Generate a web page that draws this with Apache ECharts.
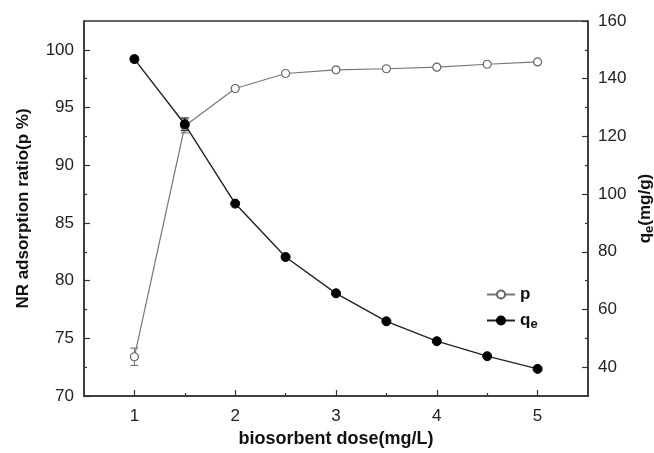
<!DOCTYPE html>
<html><head><meta charset="utf-8">
<script src="https://cdn.jsdelivr.net/npm/echarts@6/dist/echarts.min.js"></script>
<style>html,body{margin:0;padding:0;background:#fff;overflow:hidden}#c{width:654px;height:453px}</style>
</head><body><div id="c"></div>
<script>
const doses = [1, 1.5, 2, 2.5, 3, 3.5, 4, 4.5, 5];
const pValues = [73.4, 93.4, 96.65, 97.95, 98.27, 98.36, 98.5, 98.75, 98.95];
const qValues = [146.8, 124.2, 96.7, 78.2, 65.6, 55.9, 49.0, 43.8, 39.4];
const pErrors = [0.75, 0.6, 0, 0, 0, 0, 0, 0, 0];
const qErrors = [1.0, 2.2, 0, 0, 0, 0, 0, 0, 0];
const xTicks = [1, 2, 3, 4, 5];
const xMinorTicks = [1.5, 2.5, 3.5, 4.5];
const leftTicks = [70, 75, 80, 85, 90, 95, 100];
const leftMinorTicks = [72.5, 77.5, 82.5, 87.5, 92.5, 97.5];
const rightTicks = [40, 60, 80, 100, 120, 140, 160];
const rightMinorTicks = [50, 70, 90, 110, 130, 150];

const FONT = '"Liberation Sans", Arial, sans-serif';
const AX = '#333';
const chart = echarts.init(document.getElementById('c'), null, {width: 654, height: 453});

function errData(vals, errs) {
  return doses.map((d, i) => [d, vals[i] - errs[i], vals[i] + errs[i]]).filter((r, i) => errs[i] > 0);
}
function errSeries(yIdx, vals, errs, color) {
  return {
    type: 'custom', yAxisIndex: yIdx, xAxisIndex: 0, silent: true, z: 1,
    data: errData(vals, errs),
    renderItem: function (params, api) {
      const x = api.value(0);
      const lo = api.coord([x, api.value(1)]);
      const hi = api.coord([x, api.value(2)]);
      const w = 4;
      return {
        type: 'group',
        children: [
          {type: 'line', shape: {x1: lo[0], y1: lo[1], x2: hi[0], y2: hi[1]}, style: {stroke: color, lineWidth: 1}},
          {type: 'line', shape: {x1: lo[0] - w, y1: lo[1], x2: lo[0] + w, y2: lo[1]}, style: {stroke: color, lineWidth: 1}},
          {type: 'line', shape: {x1: hi[0] - w, y1: hi[1], x2: hi[0] + w, y2: hi[1]}, style: {stroke: color, lineWidth: 1}}
        ]
      };
    }
  };
}

const tickLabel = {color: '#222', fontSize: 17, fontFamily: FONT};
function nameStyle(size) {
  return {color: '#111', fontSize: size, fontWeight: 'bold', fontFamily: FONT,
    rich: {s: {fontSize: size - 4, fontWeight: 'bold', fontFamily: FONT, color: '#111', verticalAlign: 'bottom', padding: [8, 0, 0, 0]},
           n: {fontSize: size, fontWeight: 'bold', fontFamily: FONT, color: '#111'}}};
}

const option = {
  animation: false,
  backgroundColor: '#fff',
  grid: {left: 84, right: 66, top: 21, bottom: 57, containLabel: false, outerBoundsMode: 'none',
         show: true, borderColor: AX, borderWidth: 1.5, backgroundColor: 'transparent'},
  legend: {
    orient: 'vertical', left: 481, top: 281, itemGap: 9, itemWidth: 28, itemHeight: 10,
    data: ['p', 'qe'],
    formatter: function (n) { return n === 'qe' ? '{n|q}{s|e}' : '{n|p}'; },
    textStyle: nameStyle(17)
  },
  xAxis: [
    {type: 'value', min: 0.5, max: 5.5, position: 'bottom',
     name: 'biosorbent dose(mg/L)', nameLocation: 'middle', nameGap: 34, nameTextStyle: nameStyle(18),
     axisLine: {show: true, lineStyle: {color: AX, width: 1.5}},
     axisTick: {show: true, inside: true, length: 6, customValues: xTicks, lineStyle: {color: AX, width: 1.2}},
     axisLabel: {customValues: xTicks, margin: 12, ...tickLabel},
     splitLine: {show: false}},
    {type: 'value', min: 0.5, max: 5.5, position: 'bottom',
     axisLine: {show: false},
     axisTick: {show: true, inside: true, length: 3, customValues: xMinorTicks, lineStyle: {color: AX, width: 1.2}},
     axisLabel: {show: false}, splitLine: {show: false}}
  ],
  yAxis: [
    {type: 'value', min: 70, max: 102.5, position: 'left',
     name: 'NR adsorption ratio(p %)', nameLocation: 'middle', nameGap: 52, nameTextStyle: nameStyle(17),
     axisLine: {show: true, lineStyle: {color: AX, width: 1.5}},
     axisTick: {show: true, inside: true, length: 6, customValues: leftTicks, lineStyle: {color: AX, width: 1.2}},
     axisLabel: {customValues: leftTicks, margin: 10, ...tickLabel},
     splitLine: {show: false}},
    {type: 'value', min: 30, max: 160, position: 'right',
     name: '{n|q}{s|e}{n|(mg/g)}', nameLocation: 'middle', nameGap: 30, nameTextStyle: nameStyle(17),
     axisLine: {show: true, lineStyle: {color: AX, width: 1.5}},
     axisTick: {show: true, inside: true, length: 6, customValues: rightTicks, lineStyle: {color: AX, width: 1.2}},
     axisLabel: {customValues: rightTicks, margin: 10, ...tickLabel},
     splitLine: {show: false}},
    {type: 'value', min: 70, max: 102.5, position: 'left',
     axisLine: {show: false},
     axisTick: {show: true, inside: true, length: 3, customValues: leftMinorTicks, lineStyle: {color: AX, width: 1.2}},
     axisLabel: {show: false}, splitLine: {show: false}},
    {type: 'value', min: 30, max: 160, position: 'right',
     axisLine: {show: false},
     axisTick: {show: true, inside: true, length: 3, customValues: rightMinorTicks, lineStyle: {color: AX, width: 1.2}},
     axisLabel: {show: false}, splitLine: {show: false}}
  ],
  series: [
    errSeries(0, pValues, pErrors, '#666'),
    errSeries(1, qValues, qErrors, '#111'),
    {name: 'p', type: 'line', xAxisIndex: 0, yAxisIndex: 0,
     data: doses.map((d, i) => [d, pValues[i]]),
     symbol: 'circle', symbolSize: 8,
     itemStyle: {color: '#fff', borderColor: '#666', borderWidth: 1.2},
     lineStyle: {color: '#777', width: 1.2}, z: 3},
    {name: 'qe', type: 'line', xAxisIndex: 0, yAxisIndex: 1,
     data: doses.map((d, i) => [d, qValues[i]]),
     symbol: 'circle', symbolSize: 9,
     itemStyle: {color: '#000', borderColor: '#000', borderWidth: 1},
     lineStyle: {color: '#222', width: 1.4}, z: 4}
  ]
};
chart.setOption(option);
</script>
</body></html>
